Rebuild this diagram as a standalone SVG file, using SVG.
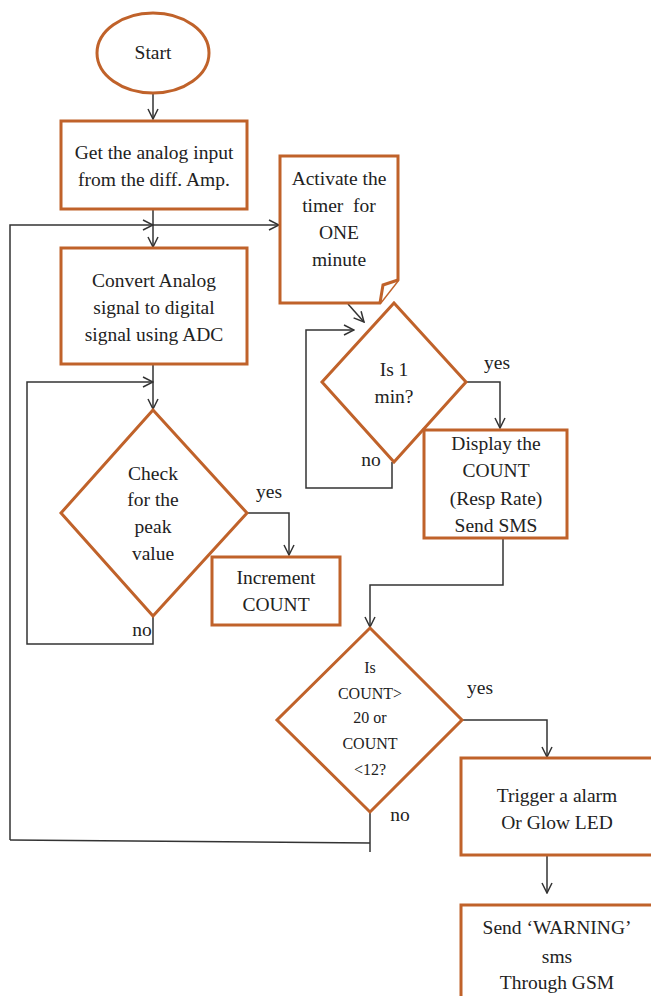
<svg xmlns="http://www.w3.org/2000/svg" width="651" height="996" viewBox="0 0 651 996">
<style>
.n{fill:#fff;stroke:#C0622A;stroke-width:3}
.t{font-family:"Liberation Serif","Times New Roman","DejaVu Serif",serif;font-size:19.5px;fill:#222;text-anchor:middle}
.s{font-size:16px}
.c{fill:none;stroke:#333;stroke-width:1.5}
</style>
<defs>
<marker id="a" viewBox="0 0 12 12" refX="11" refY="6" markerWidth="12" markerHeight="12" markerUnits="userSpaceOnUse" orient="auto">
<path d="M1,1 L11,6 L1,11" fill="none" stroke="#333" stroke-width="1.5"/>
</marker>
</defs>
<rect width="651" height="996" fill="#fff"/>
<g id="connectors">
<line class="c" x1="153" y1="93" x2="153" y2="119" marker-end="url(#a)"/>
<line class="c" x1="153" y1="210" x2="153" y2="247" marker-end="url(#a)"/>
<polyline class="c" points="10,840 10,225 153,225" marker-end="url(#a)"/>
<line class="c" x1="153" y1="225" x2="279" y2="225" marker-end="url(#a)"/>
<line class="c" x1="153" y1="365" x2="153" y2="409" marker-end="url(#a)"/>
<polyline class="c" points="153,616 153,644 27,644 27,382 153,382" marker-end="url(#a)"/>
<polyline class="c" points="247,513 289,513 289,555" marker-end="url(#a)"/>
<line class="c" x1="348" y1="304" x2="364" y2="322" marker-end="url(#a)"/>
<polyline class="c" points="392,462 392,488 306,488 306,330 354,330" marker-end="url(#a)"/>
<polyline class="c" points="466,382 500,382 500,428" marker-end="url(#a)"/>
<polyline class="c" points="503,539 503,585 370,585 370,627" marker-end="url(#a)"/>
<polyline class="c" points="462,720 547,720 547,757" marker-end="url(#a)"/>
<line class="c" x1="370" y1="812" x2="370" y2="852"/>
<line class="c" x1="10" y1="840" x2="370" y2="843"/>
<line class="c" x1="547" y1="856" x2="547" y2="893" marker-end="url(#a)"/>
<text class="t" x="269" y="498">yes</text>
<text class="t" x="142" y="636">no</text>
<text class="t" x="497" y="369">yes</text>
<text class="t" x="371" y="466">no</text>
<text class="t" x="480" y="694">yes</text>
<text class="t" x="400" y="821">no</text>
</g>
<g id="start">
<ellipse class="n" cx="153" cy="53" rx="56" ry="40"/>
<text class="t" x="153" y="59">Start</text>
</g>
<g id="get-input">
<rect class="n" x="61" y="121" width="186" height="88"/>
<text class="t" x="154" y="159">Get the analog input</text>
<text class="t" x="154" y="186">from the diff. Amp.</text>
</g>
<g id="convert">
<rect class="n" x="61" y="248" width="186" height="116"/>
<text class="t" x="154" y="287">Convert Analog</text>
<text class="t" x="154" y="314">signal to digital</text>
<text class="t" x="154" y="341">signal using ADC</text>
</g>
<g id="timer">
<path class="n" d="M280,156 H398 V280 L380,303 H280 Z"/>
<path class="n" d="M398,280 L383,285 L380,303" fill="none"/>
<text class="t" x="339" y="185">Activate the</text>
<text class="t" x="339" y="212" xml:space="preserve">timer  for</text>
<text class="t" x="339" y="239">ONE</text>
<text class="t" x="339" y="266">minute</text>
</g>
<g id="check-peak">
<polygon class="n" points="153,410 247,513 153,616 61,513"/>
<text class="t" x="153" y="480">Check</text>
<text class="t" x="153" y="506">for the</text>
<text class="t" x="153" y="533">peak</text>
<text class="t" x="153" y="560">value</text>
</g>
<g id="increment">
<rect class="n" x="212" y="557" width="128" height="68"/>
<text class="t" x="276" y="584">Increment</text>
<text class="t" x="276" y="611">COUNT</text>
</g>
<g id="is-1-min">
<polygon class="n" points="394,303 466,382 394,462 322,382"/>
<text class="t" x="394" y="376">Is 1</text>
<text class="t" x="394" y="403">min?</text>
</g>
<g id="display">
<rect class="n" x="424" y="430" width="143" height="108"/>
<text class="t" x="496" y="450">Display the</text>
<text class="t" x="496" y="477">COUNT</text>
<text class="t" x="496" y="505">(Resp Rate)</text>
<text class="t" x="496" y="532">Send SMS</text>
</g>
<g id="is-count">
<polygon class="n" points="370,628 462,720 370,812 277,720"/>
<text class="t s" x="370" y="673">Is</text>
<text class="t s" x="370" y="699">COUNT&gt;</text>
<text class="t s" x="370" y="723">20 or</text>
<text class="t s" x="370" y="749">COUNT</text>
<text class="t s" x="370" y="775">&lt;12?</text>
</g>
<g id="trigger">
<rect class="n" x="461" y="758" width="192" height="97"/>
<text class="t" x="557" y="802">Trigger a alarm</text>
<text class="t" x="557" y="829">Or Glow LED</text>
</g>
<g id="send-warning">
<rect class="n" x="461" y="905" width="192" height="95"/>
<text class="t" x="557" y="934">Send ‘WARNING’</text>
<text class="t" x="557" y="963">sms</text>
<text class="t" x="557" y="989">Through GSM</text>
</g>
</svg>
